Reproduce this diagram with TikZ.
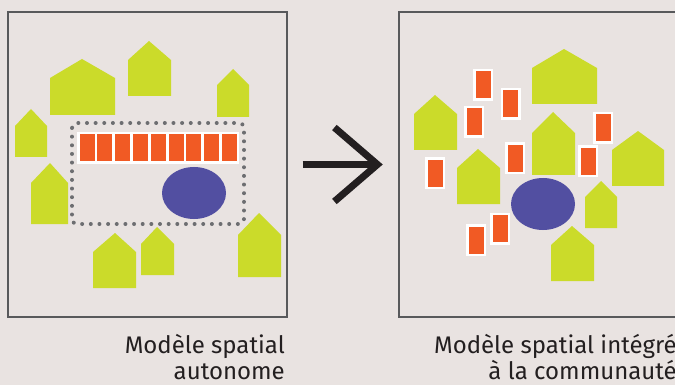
\documentclass[tikz,border=0pt]{standalone}
\usepackage{fontspec}
\setmainfont{Fira Sans}
\usetikzlibrary{positioning}
\definecolor{paper}{RGB}{233,227,225}
\definecolor{roofgreen}{RGB}{203,219,42}
\definecolor{lotorange}{RGB}{241,90,36}
\definecolor{hubblue}{RGB}{82,79,161}
\definecolor{dotgrey}{RGB}{109,110,113}
\definecolor{framegrey}{RGB}{88,89,91}
\definecolor{ink}{RGB}{35,31,32}
\tikzset{
  panel/.style={draw=framegrey,line width=1.2pt,minimum width=279pt,minimum height=305pt,inner sep=0pt},
  house/.style={fill=roofgreen},
  lot/.style={fill=lotorange,draw=white,line width=2.5pt,minimum width=17.5pt,minimum height=29.5pt,inner sep=0pt},
  hub/.style={fill=hubblue},
  fence/.style={draw=dotgrey,line width=4pt,line cap=round,dash pattern=on 0pt off 8.65pt,rounded corners=5pt},
  arrowbar/.style={draw=ink,line width=7pt},
  caption/.style={font=\fontsize{24}{26}\selectfont,text=ink,align=right,inner sep=0pt}
}
\begin{document}
\begin{tikzpicture}[x=1pt,y=-1pt]
\fill[paper] (0,0) rectangle (675,385);
\useasboundingbox (0,0) rectangle (675,385);

\node[panel] (autonome) at (147.5,164.5) {};
\node[panel] (integre) at (538.5,164.5) {};

% modele autonome
\fill[house] (50,115) -- (50,78) -- (82,59) -- (115,78) -- (115,115) -- cycle;
\fill[house] (128,96) -- (128,60) -- (149,41) -- (171,60) -- (171,96) -- cycle;
\fill[house] (217,117) -- (217,85) -- (233,69) -- (249,85) -- (249,117) -- cycle;
\fill[house] (15,157) -- (15,126) -- (31,109) -- (47,126) -- (47,157) -- cycle;
\fill[house] (31,224) -- (31,183) -- (50,163) -- (68,183) -- (68,224) -- cycle;
\fill[house] (93,288) -- (93,252) -- (115,233) -- (136,252) -- (136,288) -- cycle;
\fill[house] (141,275) -- (141,244) -- (157,227) -- (174,244) -- (174,275) -- cycle;
\fill[house] (238,277) -- (238,235) -- (259,213) -- (281,235) -- (281,277) -- cycle;
\draw[fence] (72,123) rectangle (244,224);
\foreach \k in {0,...,8}
  \node[lot] (row\k) at (87+17.8*\k,148) {};
\fill[hub] (194,193) ellipse [x radius=32, y radius=26];

% modele integre
\fill[house] (532,104) -- (532,68) -- (564,49) -- (597,68) -- (597,104) -- cycle;
\fill[house] (414,150) -- (414,114) -- (435,95) -- (457,114) -- (457,150) -- cycle;
\fill[house] (457,204) -- (457,168) -- (478,149) -- (500,168) -- (500,204) -- cycle;
\fill[house] (532,175) -- (532,133) -- (553,112) -- (575,133) -- (575,175) -- cycle;
\fill[house] (612,186) -- (612,150) -- (638,131) -- (664,150) -- (664,186) -- cycle;
\fill[house] (585,228) -- (585,197) -- (601,181) -- (617,197) -- (617,228) -- cycle;
\fill[house] (551,281) -- (551,245) -- (572,226) -- (594,245) -- (594,281) -- cycle;
\node[lot] (lot1) at (483,85) {};
\node[lot] (lot2) at (510.5,103.7) {};
\node[lot] (lot3) at (474,122) {};
\node[lot] (lot4) at (603,128) {};
\node[lot] (lot5) at (515,158.5) {};
\node[lot] (lot6) at (588,161.3) {};
\node[lot] (lot7) at (435,173.5) {};
\node[lot] (lot8) at (500,228.5) {};
\node[lot] (lot9) at (476,240) {};
\fill[hub] (543,204) ellipse [x radius=32, y radius=26];

% fleche
\coordinate (tip) at ([xshift=-21pt]integre.west);
\draw[arrowbar] ([xshift=15pt]autonome.east) -- (tip);
\draw[arrowbar] ([shift={(-43,-37)}]tip) -- (tip) -- ([shift={(-43,37)}]tip);

\node[caption,anchor=base east] (leftcap) at (285,379) {Modèle spatial\\autonome};
\node[caption,anchor=base east] (rightcap) at (677,379) {Modèle spatial intégré\\à la communauté};
\end{tikzpicture}
\end{document}
